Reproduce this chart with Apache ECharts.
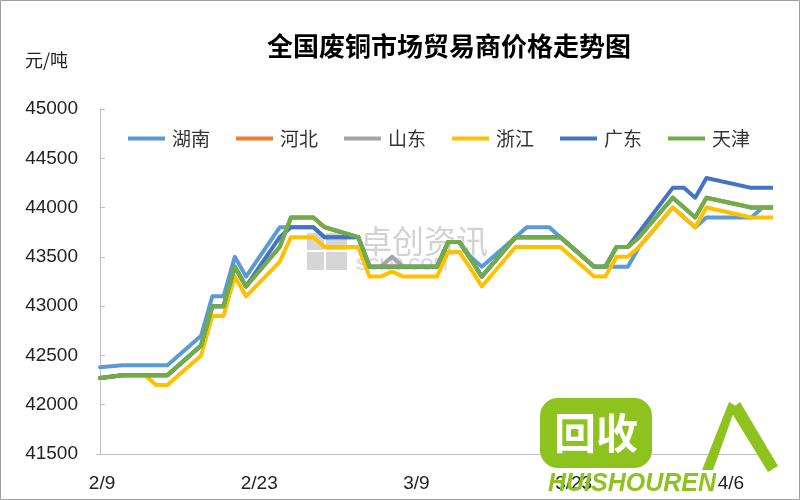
<!DOCTYPE html>
<html><head><meta charset="utf-8">
<script src="https://cdn.jsdelivr.net/npm/echarts@6/dist/echarts.min.js"></script>
<style>html,body{margin:0;padding:0;background:#fff}#c{width:800px;height:500px}</style>
</head><body><div id="c"></div>
<script>
// ---- data ----
const seriesNames = ['湖南','河北','山东','浙江','广东','天津'];
const dates = ['2/9','2/11','2/12','2/13','2/14','2/15','2/18','2/19','2/20','2/21','2/22',
  '2/25','2/26','2/27','2/28','3/1','3/4','3/5','3/6','3/7','3/8','3/11','3/12','3/13','3/14','3/15',
  '3/18','3/19','3/20','3/21','3/22','3/25','3/26','3/27','3/28','3/29','4/1','4/2','4/3','4/4','4/8','4/9','4/10'];
const hunan   = [42380,42400,42400,42400,42400,42400,42700,43100,43100,43500,43300,
  43800,43800,43800,43800,43700,43700,43400,43400,43400,43400,43400,43650,43650,43500,43400,
  43700,43800,43800,43800,43700,43400,43400,43400,43400,43600,44000,43900,43800,43900,43900,44000,44000];
const hebei   = [42270,42300,42300,42300,42300,42300,42600,43000,43000,43400,43200,
  43600,43900,43900,43900,43800,43700,43400,43400,43400,43400,43400,43650,43650,43480,43300,
  43700,43700,43700,43700,43700,43400,43400,43600,43600,43700,44100,44000,43900,44100,44000,44000,44000];
const shandong= [42270,42300,42300,42300,42300,42300,42600,43000,43000,43400,43200,
  43600,43900,43900,43900,43800,43700,43400,43400,43500,43400,43400,43650,43650,43480,43300,
  43700,43700,43700,43700,43700,43400,43400,43600,43600,43700,44100,44000,43900,44100,44000,44000,44000];
const zhejiang= [42270,42300,42300,42300,42200,42200,42500,42900,42900,43300,43100,
  43450,43700,43700,43700,43600,43600,43300,43300,43350,43300,43300,43550,43550,43380,43200,
  43600,43600,43600,43600,43600,43300,43300,43500,43500,43600,44000,43900,43800,44000,43900,43900,43900];
const guangdong=[42270,42300,42300,42300,42300,42300,42600,43000,43000,43400,43200,
  43700,43800,43800,43800,43700,43700,43400,43400,43400,43400,43400,43650,43650,43480,43300,
  43700,43700,43700,43700,43700,43400,43400,43600,43600,43750,44200,44200,44100,44300,44200,44200,44200];
const tianjin = [42270,42300,42300,42300,42300,42300,42600,43000,43000,43400,43200,
  43600,43900,43900,43900,43800,43700,43400,43400,43400,43400,43400,43650,43650,43480,43300,
  43700,43700,43700,43700,43700,43400,43400,43600,43600,43700,44100,44000,43900,44100,44000,44000,44000];
const xTickLabels = ['2/9','2/23','3/9','3/23','4/6'];
const yMin = 41500, yMax = 45000, yStep = 500;
const colors = ['#5B9BD5','#ED7D31','#A5A5A5','#FFC000','#4472C4','#70AD47'];
const allValues = [hunan, hebei, shandong, zhejiang, guangdong, tianjin];

// day offset from the first date (non-leap year)
function dayOffset(s){ const p = s.split('/').map(Number); return (Date.UTC(2019,p[0]-1,p[1]) - Date.UTC(2019,1,9))/86400000; }
const xs = dates.map(dayOffset);
const tickVals = xTickLabels.map(dayOffset);

const FONT = '"Liberation Sans","Noto Sans CJK SC",sans-serif';
const CJK = '"Noto Sans CJK SC","Liberation Sans",sans-serif';

const chart = echarts.init(document.getElementById('c'), null, {renderer:'canvas'});
chart.setOption({
  backgroundColor:'#fff',
  animation:false,
  color: colors,
  title:{ text:'全国废铜市场贸易商价格走势图', left:262, top:28,
    textStyle:{ fontSize:26, fontWeight:'bold', color:'#000', fontFamily:CJK } },
  legend:{ data:seriesNames, left:128, top:129, padding:0, icon:'rect', itemWidth:37, itemHeight:4, itemGap:26,
    textStyle:{ fontSize:19, color:'#333', fontFamily:CJK, padding:[0,0,0,2] } },
  grid:{ left:97, right:29, top:109, bottom:46, outerBoundsMode:'none' },
  xAxis:{ type:'value', min:-0.27, max:59.75,
    axisLine:{ show:true, lineStyle:{ color:'#bfbfbf', width:1 } },
    axisTick:{ show:false }, splitLine:{ show:false },
    axisLabel:{ customValues: tickVals, margin:20, fontSize:19, color:'#222', fontFamily:FONT, padding:[0,0,0,4],
      formatter: v => { const i = tickVals.indexOf(Math.round(v)); return i>=0 ? xTickLabels[i] : ''; } } },
  yAxis:{ type:'value', min:yMin, max:yMax, interval:yStep,
    axisLine:{ show:true, lineStyle:{ color:'#bfbfbf', width:1 } },
    axisTick:{ show:true, inside:true, length:5, lineStyle:{ color:'#bfbfbf' } },
    splitLine:{ show:false },
    axisLabel:{ margin:19, fontSize:19, color:'#222', fontFamily:FONT, formatter: v => String(v) } },
  series: seriesNames.map((n,k)=>({
    name:n, type:'line', showSymbol:false, symbol:'none', smooth:false,
    data: xs.map((x,i)=>[x, allValues[k][i]]),
    lineStyle:{ width:4, color:colors[k], cap:'round', join:'round' },
    itemStyle:{ color:colors[k] }
  })),
  graphic:[
    { type:'rect', z:100, shape:{x:0.5,y:0.5,width:799,height:499}, style:{fill:'none',stroke:'#a0a0a0',lineWidth:1}, silent:true },
    { type:'text', z:10, x:25, y:60, style:{ text:'元/吨', fontSize:18, fill:'#222', fontFamily:CJK, textVerticalAlign:'middle' } },
    // faint watermark
    { type:'rect', z:0, shape:{x:307,y:233,width:17,height:17}, style:{fill:'#d6d6d6'} },
    { type:'rect', z:0, shape:{x:326,y:233,width:21,height:17}, style:{fill:'#d6d6d6'} },
    { type:'rect', z:0, shape:{x:307,y:252,width:17,height:18}, style:{fill:'#d6d6d6'} },
    { type:'rect', z:0, shape:{x:326,y:252,width:21,height:18}, style:{fill:'#d6d6d6'} },
    { type:'text', z:0, x:360, y:241, style:{ text:'卓创资讯', fontSize:32, fill:'#d2d2d2', fontFamily:CJK, textVerticalAlign:'middle' } },
    { type:'text', z:0, x:356, y:265, style:{ text:'SCI99.COM', fontSize:17, fontWeight:'bold', fill:'#d8d8d8', fontFamily:FONT, textVerticalAlign:'middle' } },
    // green logo overlay
    { type:'rect', z:100, shape:{x:540,y:398,width:112,height:70,r:18}, style:{fill:'#8dc21f'} },
    { type:'text', z:101, x:596, y:433, style:{ text:'回收', fontSize:42, fontWeight:'bold', fill:'#fff', fontFamily:CJK, textAlign:'center', textVerticalAlign:'middle' } },
    { type:'polygon', z:100, shape:{points:[[702,470],[713,470],[736,406],[729,402]]}, style:{fill:'#8dc21f'} },
    { type:'polygon', z:100, shape:{points:[[730,410],[768,472],[778,466],[740,402]]}, style:{fill:'#8dc21f'} },
    { type:'text', z:101, x:548, y:484, style:{ text:'HUISHOUREN', fontSize:25, fontWeight:'bold', fontStyle:'italic', fill:'#8dc21f', fontFamily:FONT, textVerticalAlign:'middle' } }
  ]
});
</script></body></html>
